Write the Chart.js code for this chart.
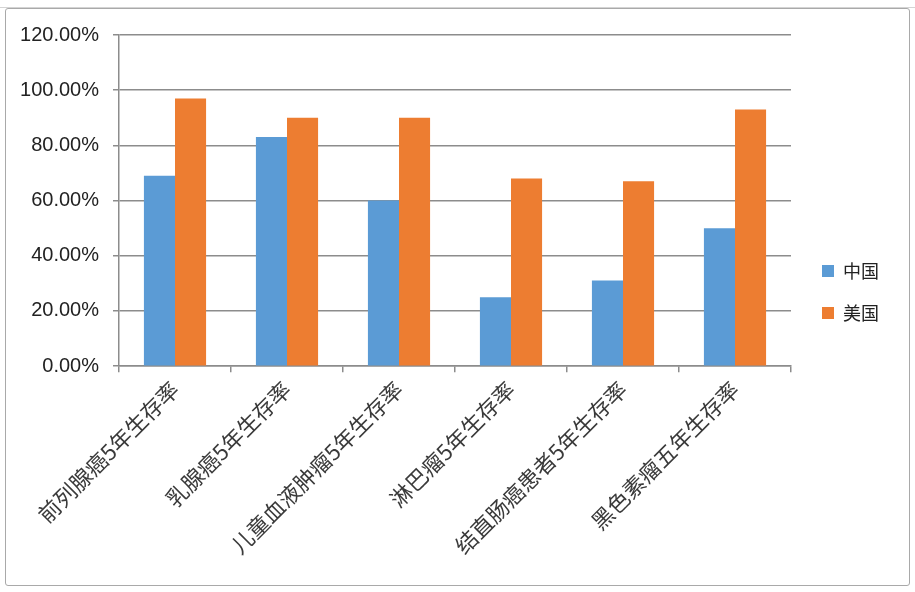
<!DOCTYPE html>
<html>
<head>
<meta charset="utf-8">
<script src="https://cdn.jsdelivr.net/npm/chart.js@4/dist/chart.umd.min.js"></script>
<style>
  html, body { margin: 0; padding: 0; background: #fff; width: 915px; height: 592px; overflow: hidden; }
  .frame {
    position: absolute; left: 5px; top: 8px; width: 903px; height: 576px;
    border: 1px solid #a9a9a9; border-radius: 3px; background: #fff;
  }
  .topstrip { position: absolute; left: 0; top: 0; width: 915px; height: 7px; border-bottom: 1px solid #d4d4d4; }
</style>
</head>
<body>
<div class="topstrip"></div>
<div class="frame"><canvas id="chart"></canvas></div>
<script>
// survival rates, percent
const categories = ['前列腺癌5年生存率', '乳腺癌5年生存率', '儿童血液肿瘤5年生存率', '淋巴瘤5年生存率', '结直肠癌患者5年生存率', '黑色素瘤五年生存率'];
const chinaValues = [69, 83, 60, 25, 31, 50];
const usaValues = [97, 90, 90, 68, 67, 93];
const seriesNames = ['中国', '美国'];

const axisGrey = '#8c8c8c';

// nudge the legend a bit to the right, like Excel does
const legendShift = {
  id: 'legendShift',
  afterLayout(chart) {
    chart.legend.left += 7;
    chart.legend.right += 7;
  }
};

new Chart(document.getElementById('chart'), {
  type: 'bar',
  data: {
    labels: categories,
    datasets: [
      { label: seriesNames[0], data: chinaValues, backgroundColor: '#5b9bd5', categoryPercentage: 0.555, barPercentage: 1 },
      { label: seriesNames[1], data: usaValues, backgroundColor: '#ed7d31', categoryPercentage: 0.555, barPercentage: 1 }
    ]
  },
  options: {
    responsive: true,
    maintainAspectRatio: false,
    animation: false,
    layout: { padding: { left: 14, top: 12, right: 27, bottom: 22 } },
    plugins: {
      legend: {
        position: 'right',
        labels: {
          boxWidth: 12,
          boxHeight: 12,
          padding: 24,
          color: '#222',
          font: { family: '"Noto Sans CJK SC", sans-serif', size: 18 }
        }
      },
      tooltip: { enabled: false }
    },
    scales: {
      x: {
        // rotated labels have room on the left already, don't let them squeeze the plot
        afterFit: s => { s.paddingLeft = 0; s.paddingRight = 0; },
        grid: { display: true, drawOnChartArea: false, drawTicks: true, tickLength: 6, color: axisGrey, lineWidth: 1.5 },
        border: { display: true, color: axisGrey, width: 1.5 },
        ticks: {
          maxRotation: 45,
          minRotation: 45,
          padding: 4,
          color: '#3a3a3a',
          font: { family: '"Noto Sans CJK SC", sans-serif', size: 22 }
        }
      },
      y: {
        min: 0,
        max: 120,
        afterFit: s => { s.width = 99; },
        grid: { color: axisGrey, lineWidth: 1.5, tickLength: 6 },
        border: { display: true, color: axisGrey, width: 1.5 },
        ticks: {
          stepSize: 20,
          padding: 14,
          color: '#222',
          font: { family: '"Liberation Sans", Arial, sans-serif', size: 20 },
          callback: v => v.toFixed(2) + '%'
        }
      }
    }
  },
  plugins: [legendShift]
});
</script>
</body>
</html>
